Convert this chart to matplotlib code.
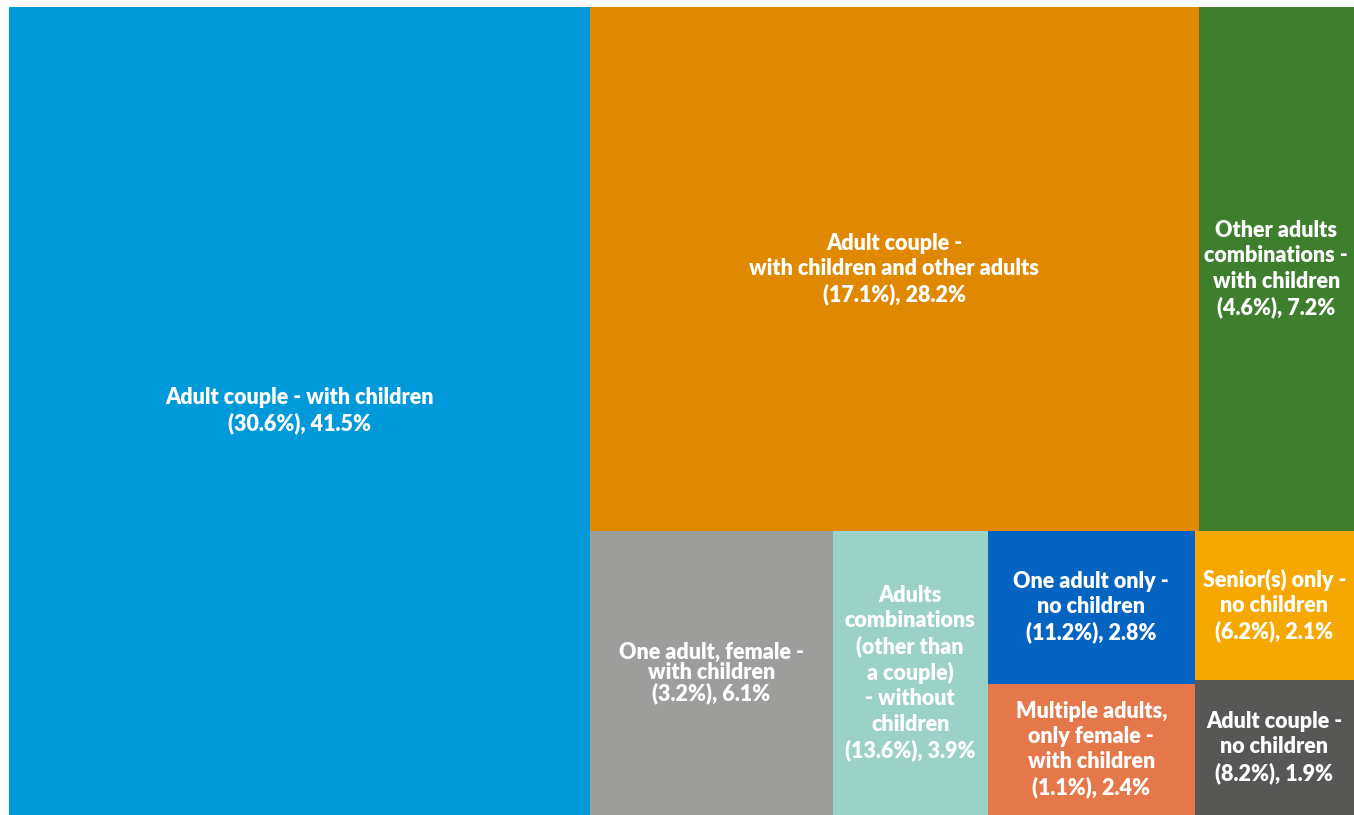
import matplotlib.pyplot as plt
from matplotlib.patches import Rectangle

# household types, share of households (in brackets) and share of value
labels = [
    "Adult couple - with children",
    "Adult couple -\nwith children and other adults",
    "Other adults\ncombinations -\nwith children",
    "One adult, female -\nwith children",
    "Adults\ncombinations\n(other than\na couple)\n- without\nchildren",
    "One adult only -\nno children",
    "Multiple adults,\nonly female -\nwith children",
    "Senior(s) only -\nno children",
    "Adult couple -\nno children",
]
households = [30.6, 17.1, 4.6, 3.2, 13.6, 11.2, 1.1, 6.2, 8.2]
values = [41.5, 28.2, 7.2, 6.1, 3.9, 2.8, 2.4, 2.1, 1.9]
colors = ["#0099D9", "#E08800", "#3E7F2E", "#9D9D9C", "#9BD2C7",
          "#0564C1", "#E5784A", "#F6A800", "#575756"]

# nesting: first cell is a full column, the rest split into a top row and a
# bottom row; bottom row groups are stacked columns
top_row = [1, 2]
bottom_row = [[3], [4], [5, 6], [7, 8]]

W, H = 1.0, 1.0
total = sum(values)
rects = {}
w0 = values[0] / total * W
rects[0] = (0, 0, w0, H)
rest_w = W - w0
rest = sum(values[1:])
top_sum = sum(values[i] for i in top_row)
top_h = top_sum / rest * H
x = w0
for i in top_row:
    w = values[i] / top_sum * rest_w
    rects[i] = (x, H - top_h, w, top_h)
    x += w
bot_h = H - top_h
bot_sum = rest - top_sum
x = w0
for group in bottom_row:
    gsum = sum(values[i] for i in group)
    w = gsum / bot_sum * rest_w
    y = bot_h
    for i in group:
        h = values[i] / gsum * bot_h
        rects[i] = (x, y - h, w, h)
        y -= h
    x += w

fig = plt.figure(figsize=(13.54, 8.15), dpi=100)
ax = fig.add_axes([9 / 1354, 0, 1 - 9 / 1354, 1 - 7 / 815])
ax.set_xlim(0, W)
ax.set_ylim(0, H)
ax.axis("off")

for i, lab in enumerate(labels):
    x0, y0, w, h = rects[i]
    ax.add_patch(Rectangle((x0, y0), w, h, facecolor=colors[i], edgecolor="none"))
    text = f"{lab}\n({households[i]}%), {values[i]}%"
    ax.text(x0 + w / 2, y0 + h / 2, text, ha="center", va="center",
            color="white", fontsize=15.5, fontweight="heavy", family="Lato",
            linespacing=0.95 if i == 3 else 1.25)

fig.savefig("out.png", dpi=100)
